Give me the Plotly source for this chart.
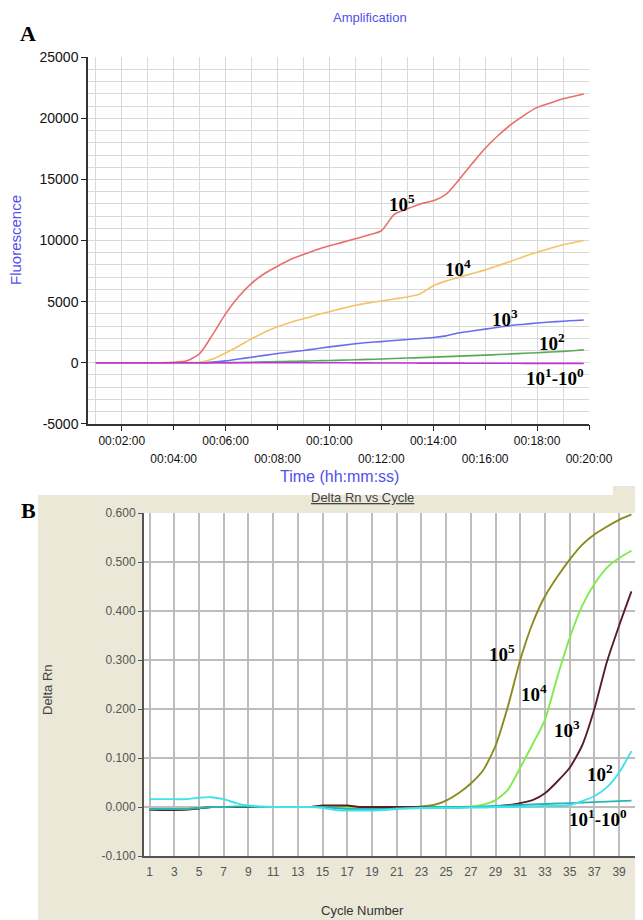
import plotly.graph_objects as go

# The page body adds an 8px margin; the figure is sized so that it fills the
# 643x920 window exactly from that offset.
PAGE_W, PAGE_H, OFF = 643, 920, 8
W, H = PAGE_W - OFF, PAGE_H - OFF

# ---------------- Panel A data (time in minutes) ----------------
time_min = [1.0, 1.5, 2.0, 2.5, 3.0, 3.5, 4.0, 4.5, 5.0, 5.5, 6.0, 6.5, 7.0, 7.5,
            8.0, 8.5, 9.0, 9.5, 10.0, 10.5, 11.0, 11.5, 12.0, 12.5, 13.0, 13.5,
            14.0, 14.5, 15.0, 15.5, 16.0, 16.5, 17.0, 17.5, 18.0, 18.5, 19.0, 19.5, 19.8]

fluor_1e5 = [0, 0, 0, 0, 0, 0, 30, 150, 750, 2300, 4000, 5400, 6500, 7300,
             7900, 8450, 8850, 9250, 9570, 9850, 10150, 10450, 10800, 12150, 12600, 13000,
             13250, 13800, 15000, 16300, 17550, 18600, 19500, 20250, 20900, 21250, 21600, 21850, 22000]
fluor_1e4 = [0, 0, 0, 0, 0, 0, 0, 0, 30, 300, 800, 1350, 1950, 2500,
             2950, 3300, 3600, 3900, 4180, 4450, 4700, 4900, 5050, 5220, 5380, 5650,
             6300, 6700, 7000, 7300, 7600, 7950, 8300, 8700, 9050, 9350, 9650, 9880, 10000]
fluor_1e3 = [0, 0, 0, 0, 0, 0, 0, 0, 0, 50, 150, 300, 450, 600,
             750, 880, 1000, 1150, 1300, 1420, 1550, 1650, 1730, 1820, 1900, 1980,
             2060, 2200, 2450, 2600, 2750, 2900, 3050, 3150, 3250, 3330, 3400, 3460, 3500]
fluor_1e2 = [0, 0, 0, 0, 0, 0, 0, 0, 0, 0, 0, 20, 40, 65,
             90, 110, 130, 155, 180, 210, 240, 270, 300, 340, 380, 420,
             460, 500, 540, 580, 620, 670, 720, 770, 820, 875, 930, 1000, 1050]
fluor_1e1_1e0 = [0, 0, 0, 0, 0, 0, 0, 0, 0, 0, 0, 0, 0, 0,
                 0, 0, 0, 0, 0, 0, -10, -15, -20, -20, -25, -30,
                 -30, -35, -35, -40, -40, -45, -45, -50, -50, -50, -55, -55, -60]

a_row1_vals = [2, 6, 10, 14, 18]
a_row1_text = ["00:02:00", "00:06:00", "00:10:00", "00:14:00", "00:18:00"]
a_row2_vals = [4, 8, 12, 16, 20]
a_row2_text = ["00:04:00", "00:08:00", "00:12:00", "00:16:00", "00:20:00"]
a_y_ticks = [-5000, 0, 5000, 10000, 15000, 20000, 25000]
a_y_ticktext = ["-5000", "0", "5000", "10000", "15000", "20000", "25000"]

# ---------------- Panel B data (cycles) ----------------
cycles = list(range(1, 41))
rn_1e5 = [-0.005, -0.005, -0.006, -0.005, -0.003, 0.0, 0.0, 0.0, 0.0, 0.0,
          0.0, 0.0, 0.0, 0.0, 0.0, 0.0, 0.0, 0.0, 0.0, 0.0,
          0.0, 0.0, 0.001, 0.004, 0.013, 0.028, 0.048, 0.075, 0.125, 0.205,
          0.300, 0.375, 0.430, 0.470, 0.505, 0.535, 0.556, 0.572, 0.586, 0.597]
rn_1e4 = [-0.004, -0.004, -0.004, -0.004, -0.002, 0.0, 0.0, 0.0, 0.0, 0.0,
          0.0, 0.0, 0.0, 0.0, 0.0, 0.0, 0.0, 0.0, 0.0, 0.0,
          0.0, 0.0, 0.0, 0.0, 0.0, 0.0, 0.001, 0.005, 0.014, 0.035,
          0.080, 0.128, 0.178, 0.265, 0.345, 0.410, 0.455, 0.488, 0.508, 0.523]
rn_1e3 = [-0.005, -0.006, -0.006, -0.005, -0.003, 0.0, 0.0, 0.0, 0.0, 0.0,
          0.0, 0.0, 0.0, 0.0, 0.003, 0.003, 0.003, 0.0, 0.0, 0.0,
          0.0, 0.0, 0.0, 0.0, 0.0, 0.0, 0.0, 0.0, 0.001, 0.004,
          0.008, 0.014, 0.028, 0.052, 0.080, 0.125, 0.200, 0.295, 0.370, 0.440]
rn_1e2 = [0.016, 0.016, 0.016, 0.016, 0.019, 0.020, 0.016, 0.008, 0.003, 0.001,
          0.0, 0.0, 0.0, 0.0, -0.002, -0.006, -0.007, -0.007, -0.007, -0.006,
          -0.004, -0.003, -0.002, -0.002, -0.002, -0.002, -0.001, -0.001, 0.0, 0.0,
          0.0, 0.001, 0.002, 0.002, 0.004, 0.012, 0.022, 0.040, 0.070, 0.114]
rn_1e1 = [-0.004, -0.004, -0.004, -0.004, -0.002, 0.0, 0.0, 0.001, 0.001, 0.0,
          0.0, 0.0, 0.0, 0.0, 0.0, -0.002, -0.004, -0.004, -0.004, -0.004,
          -0.003, -0.002, -0.001, 0.0, 0.0, 0.0, 0.0, 0.001, 0.002, 0.003,
          0.004, 0.005, 0.006, 0.007, 0.008, 0.009, 0.010, 0.011, 0.012, 0.013]
b_x_ticks = list(range(1, 40, 2))
b_y_ticks = [-0.1, 0.0, 0.1, 0.2, 0.3, 0.4, 0.5, 0.6]
b_y_ticktext = ["-0.100", "0.000", "0.100", "0.200", "0.300", "0.400", "0.500", "0.600"]

# curve labels (text, x, y) in data units
a_labels = [("10<sup>5</sup>", 12.79, 13070), ("10<sup>4</sup>", 14.95, 7765),
            ("10<sup>3</sup>", 16.76, 3665), ("10<sup>2</sup>", 18.56, 1722),
            ("10<sup>1</sup>-10<sup>0</sup>", 18.69, -1148)]
b_labels = [("10<sup>5</sup>", 29.5, 0.314), ("10<sup>4</sup>", 32.15, 0.232),
            ("10<sup>3</sup>", 34.77, 0.159), ("10<sup>2</sup>", 37.47, 0.0695),
            ("10<sup>1</sup>-10<sup>0</sup>", 37.33, -0.0225)]

# ---------------- figure ----------------
def px_x(p):
    return (p - OFF) / W

def px_y(p):
    return 1 - (p - OFF) / H

fig = go.Figure()

a_series = [(fluor_1e2, "#5aa85a"), (fluor_1e3, "#6b6bf0"), (fluor_1e4, "#f5c264"),
            (fluor_1e5, "#ea6e6c"), (fluor_1e1_1e0, "#c033d6")]
for ys, col in a_series:
    fig.add_trace(go.Scatter(x=time_min, y=ys, mode="lines",
                             line=dict(color=col, width=1.6, shape="spline", smoothing=0.7),
                             xaxis="x", yaxis="y", showlegend=False, hoverinfo="skip"))

b_series = [(rn_1e5, "#8c8a1e"), (rn_1e4, "#7fec4e"), (rn_1e3, "#5a1f26"),
            (rn_1e1, "#28b4b8"), (rn_1e2, "#40e2ea")]
for ys, col in b_series:
    fig.add_trace(go.Scatter(x=cycles, y=ys, mode="lines",
                             line=dict(color=col, width=1.9, shape="spline", smoothing=0.6),
                             xaxis="x2", yaxis="y2", showlegend=False, hoverinfo="skip"))

# empty trace to keep the second-row label axis alive
fig.add_trace(go.Scatter(x=[], y=[], xaxis="x3", yaxis="y", showlegend=False))

sans = "Liberation Sans, Arial, sans-serif"
tick_font_ax = dict(family=sans, size=12, color="#111")
tick_font_ay = dict(family=sans, size=14, color="#111")
tick_font_b = dict(family=sans, size=12, color="#555")
blue = "#5050ee"
A_RANGE = [0.70, 20.0]

fig.update_layout(
    width=W, height=H, autosize=False,
    margin=dict(l=0, r=0, t=0, b=0, pad=0, autoexpand=False),
    paper_bgcolor="white", plot_bgcolor="white",
    xaxis=dict(domain=[px_x(88), px_x(589)], anchor="y", range=A_RANGE,
               tickmode="array", tickvals=a_row1_vals, ticktext=a_row1_text,
               ticks="outside", ticklen=5, tickcolor="#222", tickfont=tick_font_ax,
               showgrid=True, gridcolor="#d8d8d8", gridwidth=1.2,
               minor=dict(tickmode="linear", tick0=0, dtick=1, showgrid=True,
                          gridcolor="#d8d8d8", gridwidth=1.2, ticks=""),
               showline=True, linecolor="#333", linewidth=1.5, zeroline=False,
               automargin=False),
    xaxis3=dict(overlaying="x", anchor="y", side="bottom", range=A_RANGE,
                tickmode="array", tickvals=a_row2_vals, ticktext=a_row2_text,
                ticks="outside", ticklen=5, tickcolor="#222", tickfont=tick_font_ax,
                ticklabelstandoff=19, showgrid=False, showline=False, zeroline=False,
                automargin=False),
    yaxis=dict(domain=[px_y(423.8), px_y(57.3)], anchor="x", range=[-5000, 25000],
               tickmode="array", tickvals=a_y_ticks, ticktext=a_y_ticktext,
               ticks="outside", ticklen=5, tickcolor="#222", tickfont=tick_font_ay,
               showgrid=True, gridcolor="#d8d8d8", gridwidth=1.2,
               minor=dict(tickmode="linear", tick0=0, dtick=1000, showgrid=True,
                          gridcolor="#d8d8d8", gridwidth=1.2, ticks=""),
               showline=True, linecolor="#333", linewidth=1.5, zeroline=False,
               automargin=False),
    xaxis2=dict(domain=[px_x(144), px_x(637)], anchor="y2", range=[0.55, 40.45],
                tickmode="array", tickvals=b_x_ticks, ticks="", tickfont=tick_font_b,
                ticklabelstandoff=4,
                showgrid=True, gridcolor="#bdbdbd", gridwidth=1.5,
                showline=True, linecolor="#555", linewidth=2, zeroline=False,
                automargin=False),
    yaxis2=dict(domain=[px_y(856), px_y(513)], anchor="x2", range=[-0.1, 0.6],
                tickmode="array", tickvals=b_y_ticks, ticktext=b_y_ticktext,
                ticks="outside", ticklen=4, tickcolor="#555", tickfont=tick_font_b,
                showgrid=True, gridcolor="#bdbdbd", gridwidth=1.5,
                showline=True, mirror=True, linecolor="#555", linewidth=2, zeroline=False,
                automargin=False),
)

# beige background for panel B
fig.add_shape(type="rect", xref="paper", yref="paper", x0=px_x(38), x1=1.0,
              y0=0, y1=px_y(495), fillcolor="#ebe8d8", line=dict(width=0), layer="below")
fig.add_shape(type="rect", xref="paper", yref="paper", x0=px_x(613), x1=1.0,
              y0=px_y(495), y1=px_y(486), fillcolor="#ebe8d8", line=dict(width=0), layer="below")
fig.add_shape(type="rect", xref="paper", yref="paper", x0=px_x(144), x1=px_x(637),
              y0=px_y(856), y1=px_y(513), fillcolor="white", line=dict(width=0), layer="below")

ann = []
serif = "Liberation Serif, Times New Roman, serif"

def paper_text(text, x, y, font, angle=0):
    return dict(text=text, x=px_x(x), y=px_y(y), xref="paper", yref="paper",
                xanchor="center", yanchor="middle", showarrow=False,
                textangle=angle, font=font)

ann.append(paper_text("<b>A</b>", 28, 33, dict(family=serif, size=22, color="#000")))
ann.append(paper_text("<b>B</b>", 28, 510, dict(family=serif, size=22, color="#000")))
ann.append(paper_text("Amplification", 370, 18, dict(family=sans, size=13, color=blue)))
ann.append(paper_text("Time (hh:mm:ss)", 339, 477, dict(family=sans, size=16, color=blue)))
ann.append(paper_text("Fluorescence", 15, 240, dict(family=sans, size=15, color=blue), -90))
ann.append(paper_text("<u>Delta Rn vs Cycle</u>", 362, 497, dict(family=sans, size=13, color="#444")))
ann.append(paper_text("Delta Rn", 47, 690, dict(family=sans, size=13, color="#444"), -90))
ann.append(paper_text("Cycle Number", 362, 910, dict(family=sans, size=13, color="#333")))

lab_font = dict(family=serif, size=19, color="#000")
for t, x, y in a_labels:
    ann.append(dict(text="<b>" + t + "</b>", x=x, y=y, xref="x", yref="y",
                    xanchor="center", yanchor="middle", showarrow=False, font=lab_font))
for t, x, y in b_labels:
    ann.append(dict(text="<b>" + t + "</b>", x=x, y=y, xref="x2", yref="y2",
                    xanchor="center", yanchor="middle", showarrow=False, font=lab_font))

fig.update_layout(annotations=ann)

fig.write_html("out.html")
